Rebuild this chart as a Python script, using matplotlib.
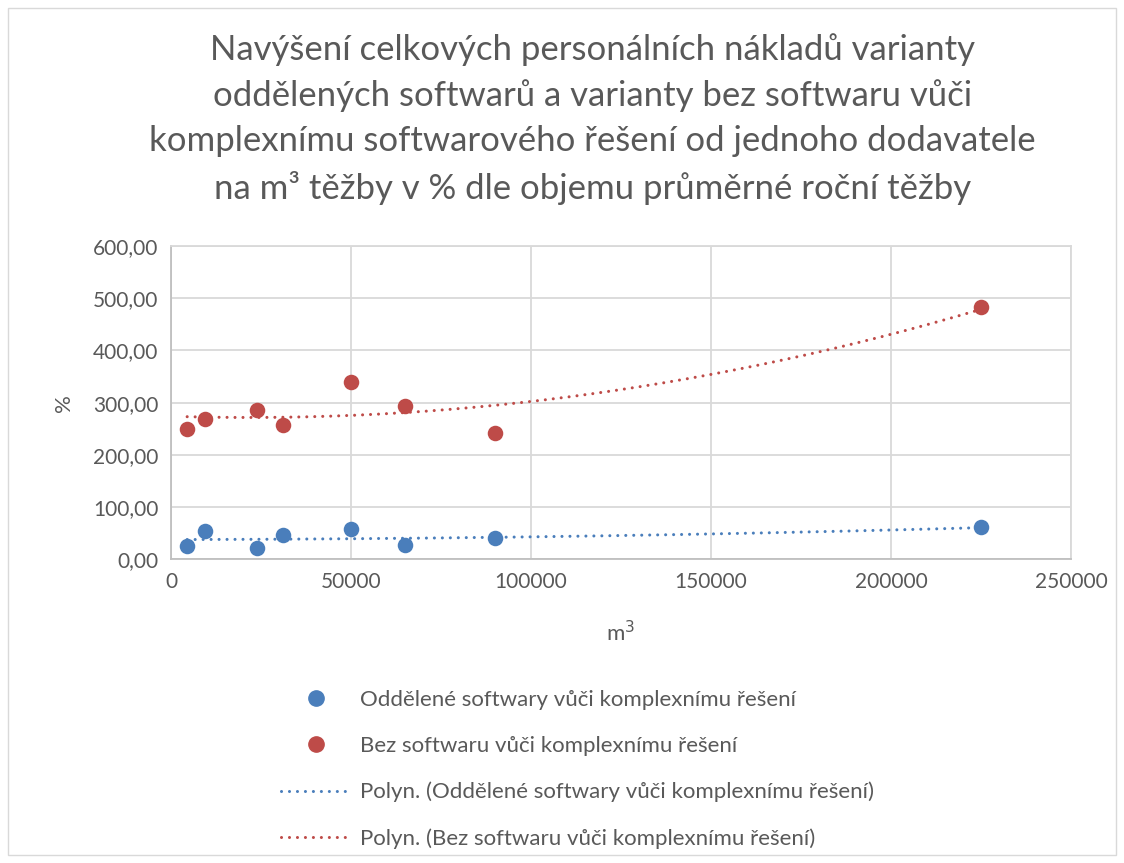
import numpy as np
import matplotlib
matplotlib.use("Agg")
import matplotlib.pyplot as plt
from matplotlib.lines import Line2D
from matplotlib.patches import Rectangle

plt.rcParams['font.family'] = ['Lato', 'DejaVu Sans']

# Data
x_vals = [4500, 9500, 24000, 31000, 50000, 65000, 90000, 225000]
oddelene = [26, 54, 21, 47, 58, 27, 41, 61]
bez = [250, 268, 285, 257, 340, 294, 242, 483]
x_ticks = [0, 50000, 100000, 150000, 200000, 250000]
y_ticks = [0, 100, 200, 300, 400, 500, 600]

title = ("Navýšení celkových personálních nákladů varianty\n"
         "oddělených softwarů a varianty bez softwaru vůči\n"
         "komplexnímu softwarového řešení od jednoho dodavatele\n"
         "na m³ těžby v % dle objemu průměrné roční těžby")
labels = ["Oddělené softwary vůči komplexnímu řešení",
          "Bez softwaru vůči komplexnímu řešení",
          "Polyn. (Oddělené softwary vůči komplexnímu řešení)",
          "Polyn. (Bez softwaru vůči komplexnímu řešení)"]

blue = '#4a7ebb'
red = '#be4b48'
grey_text = '#595959'
grid_c = '#d9d9d9'

fig = plt.figure(figsize=(11.24, 8.63), dpi=100)
fig.patches.append(Rectangle((0.007, 0.009), 0.986, 0.982, transform=fig.transFigure,
                             fill=False, edgecolor='#d9d9d9', linewidth=1))
ax = fig.add_axes([0.1521, 0.3519, 0.8007, 0.3631])

dot = (0, (0.01, 2.6))
xs = np.linspace(min(x_vals), max(x_vals), 300)
for ys, c in [(oddelene, blue), (bez, red)]:
    p = np.polyfit(x_vals, ys, 2)
    ax.plot(xs, np.polyval(p, xs), color=c, lw=2.2, linestyle=dot,
            dash_capstyle='round', zorder=2)
ax.scatter(x_vals, oddelene, s=125, color=blue, zorder=3, linewidths=0)
ax.scatter(x_vals, bez, s=125, color=red, zorder=3, linewidths=0)

ax.set_xlim(0, 250000)
ax.set_ylim(0, 600)
ax.set_xticks(x_ticks)
ax.set_xticklabels([str(v) for v in x_ticks])
ax.set_yticks(y_ticks)
ax.set_yticklabels([f"{v:.2f}".replace('.', ',') for v in y_ticks])
ax.grid(True, color=grid_c, lw=1.3)
ax.set_axisbelow(True)
for s in ax.spines.values():
    s.set_color(grid_c)
    s.set_linewidth(1.3)
ax.spines['left'].set_color('#bfbfbf')
ax.spines['bottom'].set_color('#bfbfbf')
ax.tick_params(length=0, labelsize=15, colors=grey_text, pad=9)
ax.set_xlabel("m$^3$", fontsize=16, color=grey_text, labelpad=20)
ax.set_ylabel("%", fontsize=16, color=grey_text, labelpad=14)

fig.text(0.527, 0.962, title, ha='center', va='top', fontsize=25,
         color=grey_text, linespacing=1.5)

handles = [Line2D([], [], marker='o', ls='none', color=blue, markersize=11),
           Line2D([], [], marker='o', ls='none', color=red, markersize=11),
           Line2D([], [], color=blue, lw=2.2, ls=dot, dash_capstyle='round'),
           Line2D([], [], color=red, lw=2.2, ls=dot, dash_capstyle='round')]
fig.legend(handles, labels, loc='upper left', bbox_to_anchor=(0.232, 0.224),
           frameon=False, fontsize=16, labelcolor=grey_text, handlelength=3.2,
           handletextpad=0.36, labelspacing=1.17)

fig.savefig("out.png", dpi=100)
